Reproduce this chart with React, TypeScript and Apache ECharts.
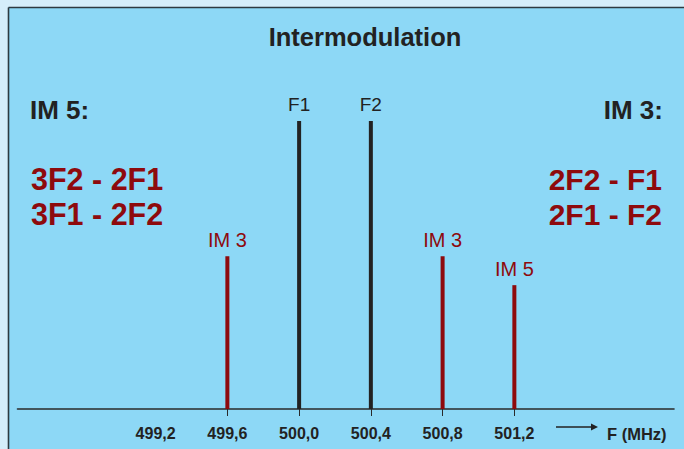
import React, { useEffect, useRef } from "react";
import * as echarts from "echarts";

// Frequencies in MHz
const carrierFreqs = [500.0, 500.4];
const carrierLevels = [100, 100];
const carrierNames = ["F1", "F2"];

const imFreqs = [499.6, 500.8, 501.2];
const imLevels = [53, 53, 43];
const imNames = ["IM 3", "IM 3", "IM 5"];

const tickLabelValues = [499.2, 499.6, 500.0, 500.4, 500.8, 501.2];
const tickMarkValues = [499.6, 500.0, 500.4, 500.8, 501.2];

const titleText = "Intermodulation";
const leftHeader = "IM 5:";
const leftFormulas = ["3F2 - 2F1", "3F1 - 2F2"];
const rightHeader = "IM 3:";
const rightFormulas = ["2F2 - F1", "2F1 - F2"];
const axisUnit = "F (MHz)";

const RED = "#8e0a0d";
const DARK = "#222222";
const SANS = "'Liberation Sans', Arial, Helvetica, sans-serif";

export default function App() {
  const ref = useRef<HTMLDivElement>(null);

  useEffect(() => {
    if (!ref.current) return;
    const chart = echarts.init(ref.current, undefined, { renderer: "svg" });

    const txt = (
      text: string,
      x: number,
      y: number,
      font: string,
      fill: string,
      align: string
    ) => ({
      type: "text",
      x,
      y,
      silent: true,
      z: 5,
      style: {
        text,
        font,
        fill,
        align,
        verticalAlign: "middle",
        textAlign: align,
        textVerticalAlign: "middle",
      },
    });

    chart.setOption({
      animation: false,
      backgroundColor: "#d5eefa",
      grid: { left: 17.5, right: 10, top: 121, bottom: 40, containLabel: false },
      xAxis: {
        type: "value",
        min: 498.43,
        max: 502.09,
        splitLine: { show: false },
        axisLine: { show: true, lineStyle: { color: "#2a2a2a", width: 1.6 } },
        axisTick: {
          show: true,
          length: 7,
          inside: false,
          customValues: tickMarkValues,
          lineStyle: { color: "#2a2a2a", width: 1 },
        },
        axisLabel: {
          show: true,
          customValues: tickLabelValues,
          margin: 16,
          color: DARK,
          fontWeight: "bold",
          fontSize: 16,
          fontFamily: SANS,
          formatter: (v: number) => v.toFixed(1).replace(".", ","),
        },
      },
      yAxis: {
        type: "value",
        min: 0,
        max: 100,
        show: false,
        splitLine: { show: false },
      },
      graphic: {
        elements: [
          {
            type: "rect",
            silent: true,
            z: -10,
            shape: { x: 8, y: 7, width: 676, height: 442 },
            style: { fill: "#8dd8f6" },
          },
          {
            type: "line",
            silent: true,
            z: -9,
            shape: { x1: 8.5, y1: 7.5, x2: 684, y2: 7.5 },
            style: { stroke: "#2e3a40", lineWidth: 1.6 },
          },
          {
            type: "line",
            silent: true,
            z: -9,
            shape: { x1: 8.5, y1: 7.5, x2: 8.5, y2: 449 },
            style: { stroke: "#2e3a40", lineWidth: 1.6 },
          },
          txt(titleText, 365, 37, `bold 25.5px ${SANS}`, DARK, "center"),
          txt(leftHeader, 30, 110, `bold 26px ${SANS}`, DARK, "left"),
          txt(rightHeader, 663, 110, `bold 26px ${SANS}`, DARK, "right"),
          txt(leftFormulas[0], 31, 179, `bold 30.5px ${SANS}`, RED, "left"),
          txt(leftFormulas[1], 31, 214, `bold 30.5px ${SANS}`, RED, "left"),
          txt(rightFormulas[0], 662, 179, `bold 30px ${SANS}`, RED, "right"),
          txt(rightFormulas[1], 662, 214, `bold 30px ${SANS}`, RED, "right"),
          txt(axisUnit, 607, 434, `bold 16.5px ${SANS}`, DARK, "left"),
          {
            type: "line",
            silent: true,
            z: 5,
            shape: { x1: 556, y1: 427, x2: 593, y2: 427 },
            style: { stroke: DARK, lineWidth: 1.6 },
          },
          {
            type: "polygon",
            silent: true,
            z: 5,
            shape: { points: [[591, 423.5], [598, 427], [591, 430.5]] },
            style: { fill: DARK },
          },
        ],
      },
      series: [
        {
          name: "Carriers",
          type: "bar",
          barWidth: 4,
          barGap: "-100%",
          itemStyle: { color: DARK },
          label: {
            show: true,
            position: "top",
            distance: 7,
            color: DARK,
            fontSize: 19,
            fontFamily: SANS,
            formatter: (p: any) => p.name,
          },
          data: carrierFreqs.map((f, i) => ({
            name: carrierNames[i],
            value: [f, carrierLevels[i]],
          })),
        },
        {
          name: "Intermodulation products",
          type: "bar",
          barWidth: 4,
          barGap: "-100%",
          itemStyle: { color: RED },
          label: {
            show: true,
            position: "top",
            distance: 6,
            color: RED,
            fontSize: 20,
            fontFamily: SANS,
            formatter: (p: any) => p.name,
          },
          data: imFreqs.map((f, i) => ({
            name: imNames[i],
            value: [f, imLevels[i]],
          })),
        },
      ],
    });

    return () => chart.dispose();
  }, []);

  return (
    <div
      ref={ref}
      style={{ position: "absolute", left: 0, top: 0, width: 684, height: 449 }}
    />
  );
}
